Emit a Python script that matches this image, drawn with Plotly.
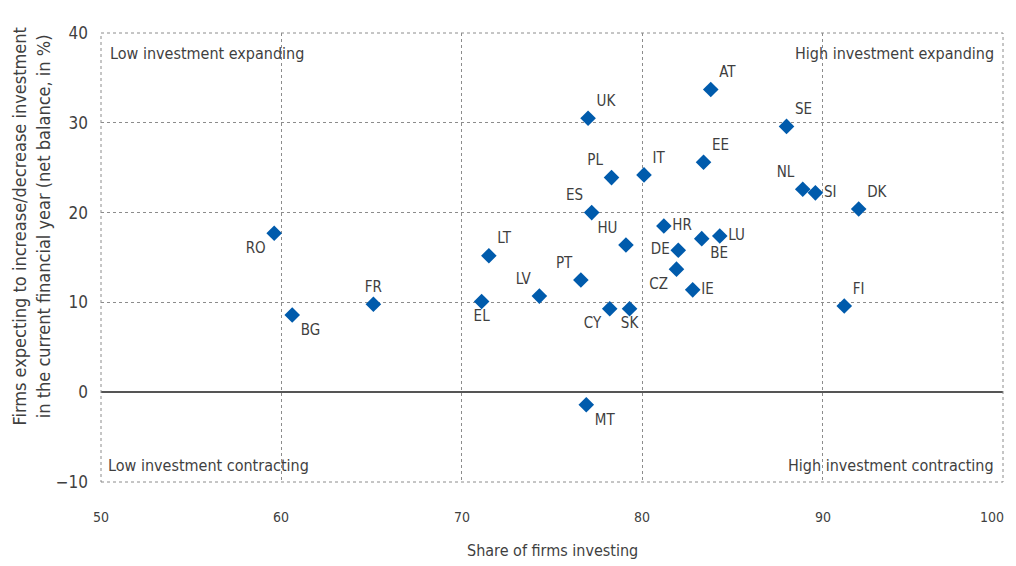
import plotly.graph_objects as go

countries = ["AT", "SE", "UK", "EE", "PL", "IT", "ES", "NL", "SI", "DK",
             "HR", "LU", "BE", "DE", "CZ", "IE", "HU", "LT", "PT", "LV",
             "FR", "EL", "CY", "SK", "MT", "RO", "BG", "FI"]
share_investing = [83.8, 88.0, 77.0, 83.4, 78.3, 80.1, 77.2, 88.9, 89.6, 92.0,
                   81.2, 84.3, 83.3, 82.0, 81.9, 82.8, 79.1, 71.5, 76.6, 74.3,
                   65.1, 71.1, 78.2, 79.3, 76.9, 59.6, 60.6, 91.2]
net_balance = [33.7, 29.6, 30.5, 25.6, 23.9, 24.2, 20.0, 22.6, 22.2, 20.4,
               18.5, 17.4, 17.1, 15.8, 13.7, 11.4, 16.4, 15.2, 12.5, 10.7,
               9.8, 10.1, 9.3, 9.3, -1.4, 17.7, 8.6, 9.6]
label_pos = ["top right", "top right", "top right", "top right", "top left",
             "top right", "top left", "top left", "middle right", "top right",
             "middle right", "middle right", "bottom right", "middle left", "bottom left",
             "middle right", "top left", "top right", "top left", "top left",
             "top center", "bottom center", "bottom left", "bottom center", "bottom right",
             "bottom left", "bottom right", "top right"]
quadrant_labels = ["Low investment expanding", "High investment expanding",
                   "Low investment contracting", "High investment contracting"]
x_ticks = [50, 60, 70, 80, 90, 100]
y_ticks = [-10, 0, 10, 20, 30, 40]
x_title = "Share of firms investing"
y_title = "Firms expecting to increase/decrease investment<br>in the current financial year (net balance, in %)"

FONT = "Liberation Sans Narrow, DejaVu Sans Condensed, Arial Narrow, sans-serif"
TXT = "#3f3f3f"

fig = go.Figure()
fig.add_trace(go.Scatter(
    x=share_investing, y=net_balance, mode="markers+text",
    text=countries, textposition=label_pos,
    textfont=dict(family=FONT, size=15, color=TXT),
    marker=dict(symbol="diamond", size=12, color="#005BAC"),
    showlegend=False, hoverinfo="skip",
))

corners = [(0.008, 0.955, "left", "middle"), (0.992, 0.955, "right", "middle"),
           (0.006, 0.036, "left", "middle"), (0.992, 0.036, "right", "middle")]
for lab, (ax, ay, xa, ya) in zip(quadrant_labels, corners):
    fig.add_annotation(x=ax, y=ay, xref="paper", yref="paper", text=lab,
                       showarrow=False, xanchor=xa, yanchor=ya,
                       font=dict(family=FONT, size=16, color=TXT))

# x tick labels as annotations so the last one stays inside the page
for i, t in enumerate(x_ticks):
    last = i == len(x_ticks) - 1
    fig.add_annotation(x=t, y=-0.078, xref="x", yref="paper", text=str(t),
                       showarrow=False, xanchor="right" if last else "center",
                       yanchor="middle", xshift=3 if last else 0,
                       font=dict(family=FONT, size=14, color=TXT))

fig.add_annotation(x=0.5, y=-0.153, xref="paper", yref="paper", text=x_title,
                   showarrow=False, xanchor="center", yanchor="middle",
                   font=dict(family=FONT, size=16, color=TXT))
fig.add_annotation(x=-0.077, y=0.57, xref="paper", yref="paper", text=y_title,
                   showarrow=False, xanchor="center", yanchor="middle", textangle=-90,
                   font=dict(family=FONT, size=18, color=TXT))

fig.add_shape(type="rect", xref="paper", yref="paper", x0=0, y0=0, x1=1, y1=1,
              line=dict(color="#8c8c8c", width=1, dash="dot"))

fig.update_xaxes(range=[50, 100], tickvals=x_ticks, showticklabels=False, showgrid=True,
                 gridcolor="#8c8c8c", griddash="dot", gridwidth=1,
                 zeroline=False, showline=False, ticks="", automargin=False)
fig.update_yaxes(range=[-10, 40], tickvals=y_ticks, showgrid=True,
                 gridcolor="#8c8c8c", griddash="dot", gridwidth=1,
                 zeroline=True, zerolinecolor="#555555", zerolinewidth=1.5,
                 showline=False, ticks="", ticklabelstandoff=12, automargin=False,
                 ticklabeloverflow="allow",
                 tickfont=dict(family=FONT, size=17, color=TXT))

# page body has an 8px margin, so the figure is sized to fit the 1016x566 window
fig.update_layout(width=1008, height=558, plot_bgcolor="white", paper_bgcolor="white",
                  margin=dict(l=93, r=13, t=25, b=84),
                  font=dict(family=FONT, color=TXT))

fig.write_html("out.html")
